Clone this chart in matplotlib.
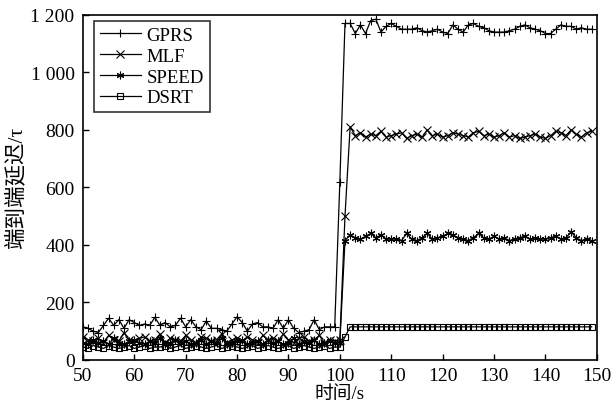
import numpy as np
import matplotlib
matplotlib.use("Agg")
import matplotlib.pyplot as plt
from matplotlib.ticker import FuncFormatter, MultipleLocator

plt.rcParams['font.family'] = ['Liberation Serif', 'Noto Sans CJK SC']

# time axis (s)
t = np.arange(50, 150)

gprs = [115, 110, 100, 95, 120, 145, 120, 140, 110, 140,
        130, 120, 125, 120, 148, 120, 130, 115, 120, 145,
        115, 140, 115, 105, 135, 110, 110, 105, 100, 125,
        150, 130, 100, 125, 130, 115, 115, 110, 140, 110,
        140, 110, 95, 100, 105, 140, 105, 115, 115, 115,
        620,
        1170, 1170, 1135, 1165, 1135, 1180, 1185, 1140, 1160, 1170,
        1160, 1150, 1150, 1150, 1155, 1145, 1140, 1145, 1150, 1140,
        1135, 1165, 1150, 1140, 1165, 1170, 1160, 1155, 1145, 1140,
        1140, 1140, 1145, 1150, 1160, 1165, 1155, 1150, 1145, 1135,
        1135, 1150, 1165, 1160, 1160, 1150, 1155, 1150, 1150]

mlf = [80, 70, 65, 75, 60, 85, 70, 65, 95, 70,
       60, 75, 80, 65, 70, 90, 60, 75, 70, 65,
       85, 70, 60, 80, 75, 65, 70, 90, 60, 70,
       75, 65, 80, 70, 60, 85, 70, 75, 65, 90,
       70, 60, 75, 80, 65, 70, 85, 60, 70, 65,
       70,
       500, 810, 780, 790, 775, 785, 780, 795, 775, 780,
       785, 790, 770, 780, 785, 775, 800, 780, 785, 775,
       780, 790, 785, 780, 775, 790, 795, 780, 785, 775,
       780, 790, 775, 780, 770, 775, 780, 785, 775, 770,
       780, 795, 790, 780, 800, 785, 775, 790, 795]

speed = [60, 55, 70, 60, 65, 55, 75, 60, 55, 65,
         70, 60, 55, 65, 60, 75, 55, 60, 70, 60,
         65, 55, 60, 70, 55, 65, 60, 75, 55, 60,
         65, 70, 55, 60, 65, 55, 70, 60, 65, 55,
         60, 75, 55, 65, 60, 70, 55, 60, 65, 60,
         60,
         415, 435, 425, 420, 430, 440, 425, 435, 420, 420,
         420, 415, 440, 420, 415, 425, 440, 420, 425, 430,
         440, 435, 425, 420, 415, 425, 440, 425, 420, 430,
         420, 425, 415, 420, 425, 430, 420, 425, 420, 420,
         425, 430, 420, 425, 445, 425, 415, 420, 415]

dsrt = [45, 40, 50, 45, 40, 50, 45, 40, 45, 50,
        40, 45, 50, 40, 45, 45, 50, 40, 45, 50,
        40, 45, 50, 45, 40, 45, 50, 40, 45, 50,
        45, 40, 45, 50, 40, 45, 50, 45, 40, 45,
        50, 40, 45, 50, 45, 40, 45, 50, 40, 45,
        45,
        80, 115, 115, 115, 115, 115, 115, 115, 115, 115,
        115, 115, 115, 115, 115, 115, 115, 115, 115, 115,
        115, 115, 115, 115, 115, 115, 115, 115, 115, 115,
        115, 115, 115, 115, 115, 115, 115, 115, 115, 115,
        115, 115, 115, 115, 115, 115, 115, 115, 115]

fig = plt.figure(figsize=(6.14, 4.06), dpi=100)
ax = fig.add_axes([0.135, 0.111, 0.837, 0.850])

kw = dict(color="black", lw=0.9, ms=5.5, mew=0.8)
ax.plot(t, gprs, marker="+", label="GPRS", **kw)
ax.plot(t, mlf, marker="x", label="MLF", **kw)
ax.plot(t, speed, marker=(6, 2, 0), label="SPEED", **kw)
ax.plot(t, dsrt, marker="s", mfc="none", label="DSRT", color="black", lw=0.9, ms=4, mew=0.8)

ax.set_xlim(50, 150)
ax.set_ylim(0, 1200)
ax.xaxis.set_major_locator(MultipleLocator(10))
ax.yaxis.set_major_locator(MultipleLocator(200))
ax.yaxis.set_major_formatter(FuncFormatter(lambda v, p: f"{int(v):,}".replace(",", " ")))
ax.tick_params(direction="in", length=4, width=1, labelsize=14, top=False, right=False)
ax.tick_params(axis="x", pad=5)
ax.tick_params(axis="y", pad=6)
for s in ax.spines.values():
    s.set_linewidth(1.2)

ax.set_xlabel("时间/s", fontsize=13.5, labelpad=1)
ax.set_ylabel("端到端延迟/τ", fontsize=15.5, labelpad=3)

leg = ax.legend(loc="upper left", bbox_to_anchor=(0.022, 0.982), borderaxespad=0,
                fontsize=13.5, frameon=True, fancybox=False,
                edgecolor="black", handlelength=2.2, handletextpad=0.3,
                labelspacing=0.2, borderpad=0.3)
leg.get_frame().set_linewidth(1.2)

fig.savefig("out.png", dpi=100)
